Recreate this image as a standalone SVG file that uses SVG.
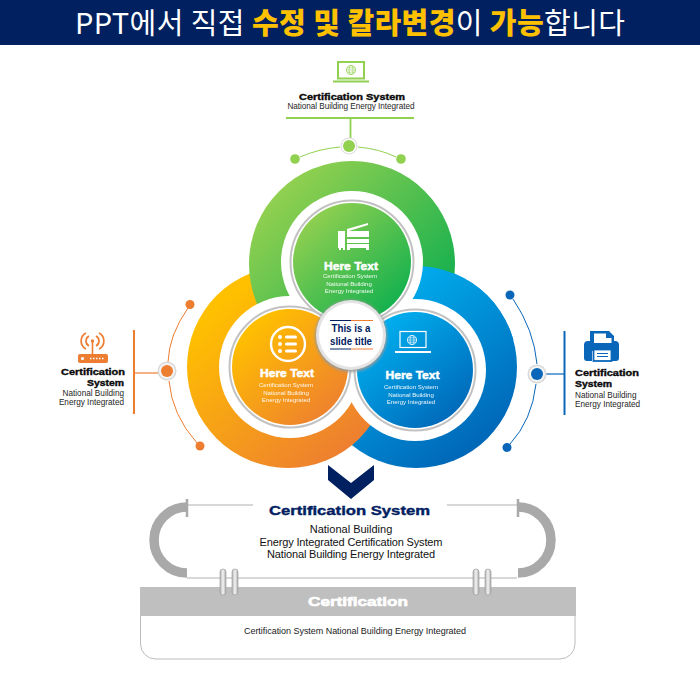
<svg xmlns="http://www.w3.org/2000/svg" xmlns:xlink="http://www.w3.org/1999/xlink" width="700" height="700" viewBox="0 0 700 700">
<style>
text{font-family:"Liberation Sans",Arial,sans-serif}
.h{font-family:"Noto Sans CJK KR","Noto Sans",sans-serif;font-size:29px;fill:#fff}
.hb{font-weight:900;fill:#ffc000}
.t{font-weight:700;fill:#0a0a0a;stroke:#0a0a0a;stroke-width:.4;font-size:9.5px}
.s{font-size:8.2px;fill:#262626}
.ht{font-weight:700;fill:#fff;stroke:#fff;stroke-width:.5;font-size:11.5px;text-anchor:middle}
.st{font-size:6.1px;fill:#fff;text-anchor:middle;opacity:.92}
.m{text-anchor:middle}
.pale{fill:none;stroke:#c2c2c2;stroke-width:2}
.wh{fill:#fff}
</style>
<defs>
<linearGradient id="gG" gradientUnits="userSpaceOnUse" x1="280" y1="190" x2="425" y2="335"><stop offset="0" stop-color="#92d050"/><stop offset="1" stop-color="#0aad4e"/></linearGradient>
<linearGradient id="gO" gradientUnits="userSpaceOnUse" x1="225" y1="300" x2="355" y2="450"><stop offset="0" stop-color="#ffc000"/><stop offset="1" stop-color="#ed7d31"/></linearGradient>
<linearGradient id="gB" gradientUnits="userSpaceOnUse" x1="370" y1="290" x2="490" y2="450"><stop offset="0" stop-color="#00b0f0"/><stop offset="1" stop-color="#0063b4"/></linearGradient>
<linearGradient id="gG2" gradientUnits="userSpaceOnUse" x1="310" y1="215" x2="395" y2="310"><stop offset="0" stop-color="#92d050"/><stop offset="1" stop-color="#10b04e"/></linearGradient>
<linearGradient id="gO2" gradientUnits="userSpaceOnUse" x1="250" y1="325" x2="335" y2="420"><stop offset="0" stop-color="#ffc000"/><stop offset="1" stop-color="#ed7d31"/></linearGradient>
<linearGradient id="gB2" gradientUnits="userSpaceOnUse" x1="375" y1="325" x2="460" y2="425"><stop offset="0" stop-color="#00b0f0"/><stop offset="1" stop-color="#0063b4"/></linearGradient>
<linearGradient id="pill" x1="0" x2="1" y1="0" y2="0"><stop offset="0" stop-color="#b0b0b0"/><stop offset=".5" stop-color="#f4f4f4"/><stop offset="1" stop-color="#a8a8a8"/></linearGradient>
<clipPath id="blueTop"><rect x="380" y="200" width="160" height="140"/></clipPath>
<filter id="sh" x="-20%" y="-20%" width="140%" height="140%"><feGaussianBlur stdDeviation="1.5"/></filter>
<filter id="soft" x="-10%" y="-10%" width="120%" height="120%"><feGaussianBlur stdDeviation=".6"/></filter>
<g id="pillPair"><rect x="0" y="0" width="6" height="26" rx="3" fill="url(#pill)" stroke="#a0a0a0" stroke-width=".7"/><rect x="12" y="0" width="6" height="26" rx="3" fill="url(#pill)" stroke="#a0a0a0" stroke-width=".7"/></g>
<g id="globe"><circle r="4.6" fill="none" stroke-width=".8"/><ellipse rx="2" ry="4.6" fill="none" stroke-width=".6"/><path d="M-4.600 0H4.600M-4 -2.200H4M-4 2.200H4" fill="none" stroke-width=".6"/></g>
</defs>

<rect id="header-bar" x="0" y="0" width="700" height="45" fill="#002060"/>
<text id="header-title" x="75" y="34" class="h" textLength="550" lengthAdjust="spacing">PPT에서 직접 <tspan class="hb">수정 및 칼라변경</tspan>이 <tspan class="hb">가능</tspan>합니다</text>

<g id="connectors" fill="none">
<path d="M286 118H414M350.500 118V138" stroke="#92d050" stroke-width="1.800"/>
<path d="M300 157Q318 149 340 147M358 147Q380 149 396 157" stroke="#92d050" stroke-width="1"/>
<path d="M134 330V414" stroke="#ed7d31" stroke-width="2"/><path d="M134 373H160" stroke="#ed7d31" stroke-width="1.200"/>
<path d="M188 308Q169 335 168 362M169 381Q172 415 197 443" stroke="#ed7d31" stroke-width="1"/>
<path d="M564.500 331V415" stroke="#0a66b8" stroke-width="2"/><path d="M545 374H564" stroke="#0a66b8" stroke-width="1.200"/>
<path d="M513 299Q534 330 537 364M536 384Q532 420 510 444" stroke="#0a66b8" stroke-width="1"/>
<path d="M187 505H253M447 505H518M187 578H517" stroke="#b0b0b0" stroke-width="1"/>
<path d="M187 507A33 33 0 0 0 187 573M518 507A33 33 0 0 1 518 573" stroke="#a9a9a9" stroke-width="9.500"/>
<path d="M187 499V517M518 499V517" stroke="#a9a9a9" stroke-width="2.500"/>
</g>

<g id="rings">
<circle cx="416" cy="367" r="101" fill="url(#gB)"/>
<circle cx="288" cy="367" r="101" fill="url(#gO)"/>
<circle cx="352" cy="264" r="103" fill="url(#gG)"/>
<circle cx="416" cy="367" r="101" fill="url(#gB)" clip-path="url(#blueTop)"/>
<circle cx="352" cy="262" r="71" class="wh"/>
<circle cx="290" cy="367" r="71" class="wh"/>
<circle cx="415" cy="370" r="71" class="wh"/>
</g>

<g id="node-green">
<circle cx="352" cy="262" r="61.500" class="pale" filter="url(#soft)"/><circle cx="352" cy="262" r="59" fill="url(#gG2)"/>
<g class="wh"><path d="M338 231H345V248H338Z M339 248H341V250H339Z M343 248H345V250H343Z"/><path d="M347 229L368 223V225L349 231H369V237H347Z"/><path d="M347 239H369V243H347ZM347 244H369V248H347ZM347 248H350V250H347ZM366 248H369V250H366Z"/></g>
<text x="351" y="269.500" class="ht" textLength="54" lengthAdjust="spacingAndGlyphs">Here Text</text>
<text x="350" y="278" class="st">Certification System</text><text x="349" y="286" class="st">National Building</text><text x="349" y="293" class="st">Energy Integrated</text>
</g>
<g id="node-orange">
<circle cx="290" cy="367" r="60.500" class="pale" filter="url(#soft)"/><circle cx="290" cy="367" r="58" fill="url(#gO2)"/>
<circle cx="288" cy="344" r="17" fill="none" stroke="#fff" stroke-width="2.400"/>
<g class="wh"><circle cx="280" cy="337" r="2"/><circle cx="280" cy="344" r="2"/><circle cx="280" cy="351" r="2"/><rect x="285" y="335.500" width="12" height="3" rx="1.500"/><rect x="285" y="342.500" width="12" height="3" rx="1.500"/><rect x="285" y="349.500" width="12" height="3" rx="1.500"/></g>
<text x="287" y="377" class="ht" textLength="54" lengthAdjust="spacingAndGlyphs">Here Text</text>
<text x="286" y="387" class="st">Certification System</text><text x="286" y="395" class="st">National Building</text><text x="286" y="402" class="st">Energy Integrated</text>
</g>
<g id="node-blue">
<circle cx="415" cy="370" r="60.500" class="pale" filter="url(#soft)"/><circle cx="415" cy="370" r="58" fill="url(#gB2)"/>
<rect x="400" y="331.500" width="26" height="16" fill="none" stroke="#fff" stroke-width="1.200"/><path d="M395 352H431" stroke="#fff" stroke-width="1.800"/><use xlink:href="#globe" href="#globe" x="412" y="340" stroke="#fff"/>
<text x="412.500" y="379" class="ht" textLength="54" lengthAdjust="spacingAndGlyphs">Here Text</text>
<text x="411" y="389" class="st">Certification System</text><text x="411" y="397" class="st">National Building</text><text x="411" y="404" class="st">Energy Integrated</text>
</g>
<g id="node-center">
<circle cx="351" cy="336" r="36" fill="#9a9a9a" filter="url(#sh)"/>
<circle cx="351" cy="335" r="35" fill="#e3e3e3"/><circle cx="351" cy="335" r="32" class="wh"/>
<path d="M330 320.500H351M330 349H351" stroke="#002060" stroke-width="1"/><path d="M351 320.500H373M351 349H373" stroke="#ed7d31" stroke-width="1"/>
<text x="351" y="332" class="m" font-size="11" font-weight="700" fill="#002060" textLength="39" lengthAdjust="spacingAndGlyphs">This is a</text>
<text x="351" y="345" class="m" font-size="11" font-weight="700" fill="#002060" textLength="42" lengthAdjust="spacingAndGlyphs">slide title</text>
</g>

<g id="node-top">
<rect x="338" y="62" width="26" height="16.500" fill="#fff" stroke="#92d050" stroke-width="2"/>
<use xlink:href="#globe" href="#globe" x="351" y="70" stroke="#92d050"/>
<path d="M333 81.500H369" stroke="#92d050" stroke-width="2"/>
<text x="352" y="99.500" class="t m" textLength="106" lengthAdjust="spacingAndGlyphs">Certification System</text>
<text x="351" y="109" class="s m" textLength="127">National Building Energy Integrated</text>
<circle cx="349" cy="146" r="8.500" fill="#dcdcdc"/><circle cx="349" cy="146" r="7.500" class="wh"/><circle cx="349" cy="146" r="6" fill="#92d050"/>
<circle cx="295" cy="159" r="4.800" fill="#92d050"/><circle cx="401" cy="159" r="4.800" fill="#92d050"/>
</g>
<g id="node-left">
<path d="M78 356a2 2 0 0 1 2-2H106a2 2 0 0 1 2 2V361a2 2 0 0 1-2 2H80a2 2 0 0 1-2-2Z" fill="#ed7d31"/><path d="M92.500 354V341" stroke="#ed7d31" stroke-width="1.600"/><circle cx="92.500" cy="341" r="1.700" fill="#ed7d31"/>
<circle cx="82.500" cy="358.500" r="1.600" fill="#fff"/><path d="M90 358.500H104" stroke="#fff" stroke-width="1.500" stroke-dasharray="1.500 1.500"/>
<path d="M89 336A5.700 5.700 0 0 0 89 346M96 336A5.700 5.700 0 0 1 96 346M86 333A9 9 0 0 0 86 349M99 333A9 9 0 0 1 99 349" fill="none" stroke="#ed7d31" stroke-width="1.700"/>
<text x="125" y="375" class="t" text-anchor="end" textLength="64" lengthAdjust="spacingAndGlyphs">Certification</text>
<text x="124" y="386" class="t" text-anchor="end" textLength="37" lengthAdjust="spacingAndGlyphs">System</text>
<text x="124" y="396" class="s" text-anchor="end">National Building</text>
<text x="124" y="405" class="s" text-anchor="end">Energy Integrated</text>
<circle cx="167" cy="371" r="9.500" fill="#d8d8d8"/><circle cx="167" cy="371" r="8" fill="#f4f4f4"/><circle cx="167" cy="371" r="6" fill="#ed7d31"/>
<circle cx="190" cy="304.500" r="4.500" fill="#ed7d31"/><circle cx="200" cy="446" r="4.500" fill="#ed7d31"/>
</g>
<g id="node-right">
<path d="M584 345a4 4 0 0 1 4-4H590V331H609L614 336V341H615a4 4 0 0 1 4 4V358a3 3 0 0 1-3 3H612V351H592V361H587a3 3 0 0 1-3-3Z" fill="#0a66b8"/>
<path d="M594 333.500H607L611.500 338V343H594Z" fill="#fff"/><path d="M606 332V338H612" fill="#0a66b8"/>
<rect x="593.500" y="349.500" width="18" height="11.500" fill="#fff" stroke="#0a66b8" stroke-width="1.800"/><path d="M597 353.500H608M597 356.500H608" stroke="#0a66b8"/>
<text x="575" y="376" class="t" textLength="64" lengthAdjust="spacingAndGlyphs">Certification</text>
<text x="575" y="387" class="t" textLength="37" lengthAdjust="spacingAndGlyphs">System</text>
<text x="575" y="398" class="s">National Building</text>
<text x="575" y="407" class="s">Energy Integrated</text>
<circle cx="537" cy="374" r="9.500" fill="#d8d8d8"/><circle cx="537" cy="374" r="8" fill="#f4f4f4"/><circle cx="537" cy="374" r="6" fill="#0a66b8"/>
<circle cx="510" cy="295" r="4.500" fill="#0a66b8"/><circle cx="507" cy="447.500" r="4.500" fill="#0a66b8"/>
</g>

<polygon id="chevron" points="328,465 351,483 374,465 374,480 351,499 328,480" fill="#002060"/>

<g id="panel">
<path d="M140.500 616V644A15 15 0 0 0 155.500 659H560A15 15 0 0 0 575 644V616" fill="#fff" stroke="#bdbdbd" stroke-width="1"/>
<rect x="140" y="587" width="436" height="29" fill="#bfbfbf"/>
<text x="358" y="606" class="m" font-size="13" font-weight="700" fill="#fff" stroke="#fff" stroke-width=".6" textLength="100" lengthAdjust="spacingAndGlyphs">Certification</text>
<text x="355" y="634" class="m" font-size="9" fill="#1a1a1a" textLength="222">Certification System National Building Energy Integrated</text>
<use xlink:href="#pillPair" href="#pillPair" x="220" y="569"/>
<use xlink:href="#pillPair" href="#pillPair" x="473" y="569"/>
</g>
<g id="title-block">
<text x="349.500" y="515" class="m" font-size="13.500" font-weight="700" fill="#002060" stroke="#002060" stroke-width=".4" textLength="161" lengthAdjust="spacingAndGlyphs">Certification System</text>
<text x="351" y="533" class="m" font-size="11" fill="#111">National Building</text>
<text x="351" y="546" class="m" font-size="11" fill="#111" textLength="183">Energy Integrated Certification System</text>
<text x="351" y="558" class="m" font-size="11" fill="#111" textLength="168">National Building Energy Integrated</text>
</g>
</svg>
